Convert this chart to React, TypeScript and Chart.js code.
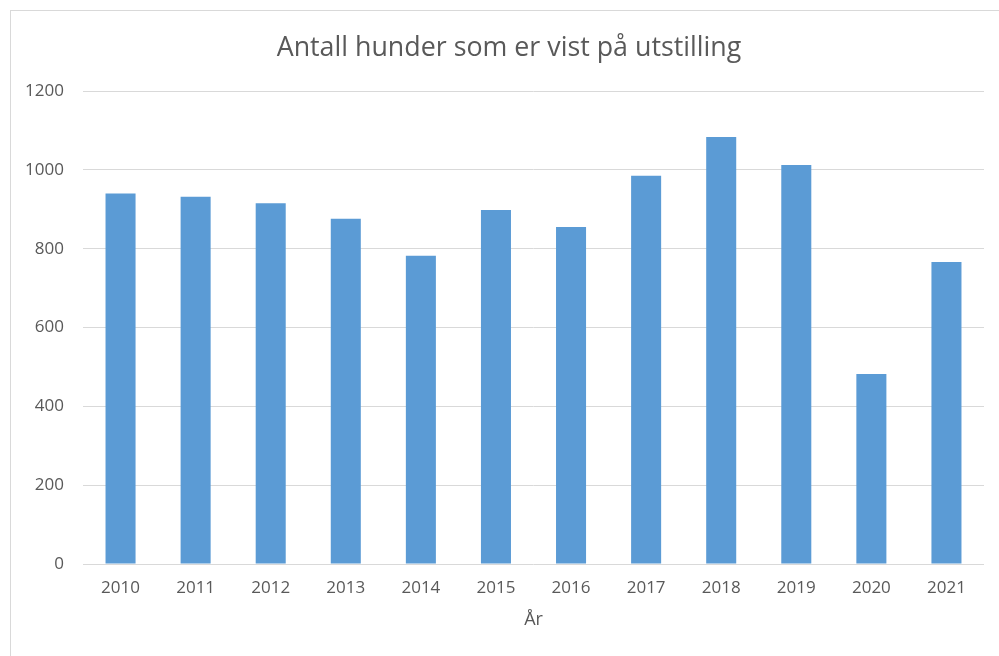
import React, { useEffect, useRef } from "react";
import { Chart, registerables } from "chart.js";

Chart.register(...registerables);

const years = ["2010", "2011", "2012", "2013", "2014", "2015", "2016", "2017", "2018", "2019", "2020", "2021"];
const dogs = [940, 932, 915, 876, 782, 898, 855, 985, 1083, 1012, 482, 766];
const titleText = "Antall hunder som er vist på utstilling";
const xTitle = "År";

const TEXT = "#595959";
const FONT = "'Open Sans', 'Noto Sans', sans-serif";

const titlePlugin = {
  id: "boxTitle",
  afterDraw(chart: any) {
    const ctx = chart.ctx;
    ctx.save();
    ctx.fillStyle = TEXT;
    ctx.font = `normal 26.8px ${FONT}`;
    ctx.textAlign = "center";
    ctx.textBaseline = "middle";
    ctx.fillText(titleText, 509, 48);
    ctx.restore();
  },
};

export default function App() {
  const ref = useRef<HTMLCanvasElement | null>(null);

  useEffect(() => {
    if (!ref.current) return;
    const chart = new Chart(ref.current, {
      type: "bar",
      data: {
        labels: years,
        datasets: [
          {
            data: dogs,
            backgroundColor: "#5B9BD5",
            borderWidth: 0,
            barPercentage: 0.4,
            categoryPercentage: 1,
          },
        ],
      },
      plugins: [titlePlugin],
      options: {
        responsive: false,
        animation: false,
        layout: { padding: { left: 0, right: 15, top: 91, bottom: 0 } },
        plugins: {
          legend: { display: false },
          tooltip: { enabled: false },
          title: { display: false },
        },
        scales: {
          x: {
            grid: { display: false, drawTicks: false },
            border: { display: false },
            ticks: { color: TEXT, font: { family: FONT, size: 17 }, padding: 14 },
            title: {
              display: true,
              text: xTitle,
              color: TEXT,
              font: { family: FONT, size: 18 },
              padding: { top: 0, bottom: 25 },
            },
            afterFit: (s: any) => {
              s.height = 92;
            },
          },
          y: {
            min: 0,
            max: 1200,
            ticks: {
              stepSize: 200,
              color: TEXT,
              font: { family: FONT, size: 17 },
              padding: 19,
              callback: (v: any) => String(v),
            },
            grid: { color: "#d9d9d9", drawTicks: false, lineWidth: 1 },
            border: { display: false },
            afterFit: (s: any) => {
              s.width = 83;
            },
          },
        },
      },
    });
    return () => chart.destroy();
  }, []);

  return (
    <div style={{ position: "fixed", left: 0, top: 0, width: 999, height: 656, background: "#fff", overflow: "hidden" }}>
      <div
        style={{
          position: "absolute",
          left: 10,
          top: 10,
          width: 1000,
          height: 660,
          border: "1px solid #d9d9d9",
          boxSizing: "border-box",
        }}
      />
      <canvas ref={ref} width={999} height={656} style={{ position: "absolute", left: 0, top: 0 }} />
    </div>
  );
}
